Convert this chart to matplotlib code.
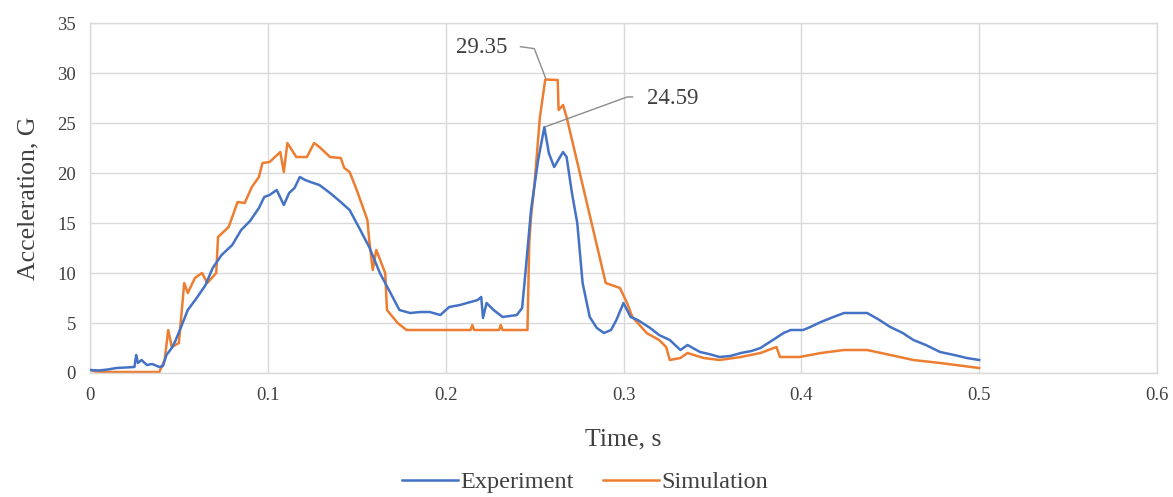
import matplotlib
matplotlib.use("Agg")
import matplotlib.pyplot as plt

plt.rcParams['font.family'] = ['Liberation Serif', 'DejaVu Serif']

# ---- data ----
t_exp = [
    0.000, 0.005, 0.010, 0.015, 0.020, 0.025, 0.026, 0.027, 0.029, 0.032,
    0.035, 0.039, 0.041, 0.043, 0.046, 0.048, 0.051, 0.055, 0.060, 0.065,
    0.069, 0.074, 0.080, 0.085, 0.090, 0.095, 0.098, 0.101, 0.105, 0.109,
    0.112, 0.115, 0.118, 0.121, 0.124, 0.129, 0.135, 0.141, 0.146, 0.152,
    0.157, 0.163, 0.169, 0.174, 0.180, 0.186, 0.191, 0.197, 0.202, 0.208,
    0.214, 0.218, 0.220, 0.221, 0.223, 0.227, 0.232, 0.236, 0.240, 0.243,
    0.245, 0.248, 0.252, 0.2555, 0.258, 0.261, 0.264, 0.266, 0.268, 0.271,
    0.274, 0.277, 0.281, 0.285, 0.289, 0.293, 0.296, 0.300, 0.304, 0.308,
    0.315, 0.320, 0.326, 0.332, 0.336, 0.343, 0.348, 0.354, 0.360, 0.366,
    0.372, 0.377, 0.384, 0.390, 0.394, 0.401, 0.405, 0.411, 0.418, 0.424,
    0.430, 0.437, 0.443, 0.450, 0.457, 0.463, 0.470, 0.478, 0.486, 0.493,
    0.500,
]
g_exp = [
    0.3, 0.25, 0.35, 0.5, 0.55, 0.6, 1.8, 1.0, 1.3, 0.8,
    0.9, 0.6, 0.7, 1.8, 2.5, 3.2, 4.5, 6.3, 7.5, 8.8,
    10.5, 11.8, 12.8, 14.3, 15.2, 16.5, 17.6, 17.8, 18.3, 16.8,
    18.0, 18.5, 19.6, 19.3, 19.1, 18.8, 18.0, 17.1, 16.3, 14.3,
    12.6, 10.0, 8.0, 6.3, 6.0, 6.1, 6.1, 5.8, 6.6, 6.8,
    7.1, 7.3, 7.6, 5.5, 7.0, 6.3, 5.6, 5.7, 5.8, 6.5,
    10.3, 16.3, 21.3, 24.59, 22.0, 20.6, 21.5, 22.1, 21.6, 18.0,
    15.0, 9.0, 5.6, 4.5, 4.0, 4.3, 5.3, 7.0, 5.6, 5.3,
    4.5, 3.8, 3.3, 2.3, 2.8, 2.1, 1.9, 1.6, 1.7, 2.0,
    2.2, 2.5, 3.3, 4.0, 4.3, 4.3, 4.6, 5.1, 5.6, 6.0,
    6.0, 6.0, 5.4, 4.6, 4.0, 3.3, 2.8, 2.1, 1.8, 1.5,
    1.3,
]

t_sim = [
    0.000, 0.003, 0.010, 0.020, 0.030, 0.039, 0.042, 0.044, 0.046, 0.050,
    0.053, 0.055, 0.059, 0.063, 0.066, 0.071, 0.072, 0.078, 0.083, 0.087,
    0.091, 0.095, 0.097, 0.101, 0.104, 0.107, 0.109, 0.111, 0.116, 0.122,
    0.126, 0.129, 0.135, 0.141, 0.143, 0.146, 0.150, 0.156, 0.157, 0.159,
    0.161, 0.166, 0.167, 0.173, 0.178, 0.214, 0.215, 0.216, 0.230, 0.231,
    0.232, 0.246, 0.247, 0.248, 0.250, 0.253, 0.256, 0.263, 0.2635, 0.266,
    0.268, 0.290, 0.298, 0.302, 0.305, 0.313, 0.320, 0.324, 0.326, 0.332,
    0.336, 0.345, 0.354, 0.366, 0.377, 0.386, 0.388, 0.399, 0.411, 0.424,
    0.437, 0.450, 0.463, 0.478, 0.500,
]
g_sim = [
    0.3, 0.15, 0.1, 0.1, 0.1, 0.1, 1.3, 4.3, 2.6, 3.0,
    9.0, 8.0, 9.5, 10.0, 9.0, 10.0, 13.6, 14.6, 17.1, 17.0,
    18.6, 19.6, 21.0, 21.1, 21.6, 22.1, 20.1, 23.0, 21.6, 21.6,
    23.0, 22.6, 21.6, 21.5, 20.5, 20.1, 18.3, 15.3, 13.3, 10.3,
    12.3, 10.0, 6.3, 5.0, 4.3, 4.3, 4.8, 4.3, 4.3, 4.8,
    4.3, 4.3, 13.0, 15.6, 19.0, 25.6, 29.35, 29.3, 26.3, 26.8,
    25.6, 9.0, 8.5, 7.0, 5.6, 4.0, 3.3, 2.6, 1.3, 1.5,
    2.0, 1.5, 1.3, 1.6, 2.0, 2.6, 1.6, 1.6, 2.0, 2.3,
    2.3, 1.8, 1.3, 1.0, 0.5,
]

series_names = ["Experiment", "Simulation"]
x_ticks = [0, 0.1, 0.2, 0.3, 0.4, 0.5, 0.6]
x_tick_labels = ["0", "0.1", "0.2", "0.3", "0.4", "0.5", "0.6"]
y_ticks = [0, 5, 10, 15, 20, 25, 30, 35]
peak_sim = (0.2565, 29.35)
peak_exp = (0.2555, 24.59)

# ---- figure ----
fig = plt.figure(figsize=(11.73, 4.97), dpi=100)
ax = fig.add_axes([0.0767, 0.2495, 0.9097, 0.7042])

blue = "#4472C4"
orange = "#ED7D31"
grid_c = "#D9D9D9"
text_c = "#404040"

ax.plot(t_exp, g_exp, color=blue, lw=1.8, label=series_names[0], zorder=3)
ax.plot(t_sim, g_sim, color=orange, lw=1.8, label=series_names[1], zorder=2)

ax.set_xlim(0, 0.6)
ax.set_ylim(0, 35)
ax.set_xticks(x_ticks)
ax.set_xticklabels(x_tick_labels)
ax.set_yticks(y_ticks)
ax.grid(True, color=grid_c, lw=1.0)
ax.set_axisbelow(True)
for s in ax.spines.values():
    s.set_color(grid_c)
    s.set_linewidth(1.0)
ax.tick_params(length=0, labelsize=13.5, colors=text_c, pad=10)

ax.set_xlabel("Time, s", fontsize=18.5, color=text_c, labelpad=18)
ax.set_ylabel("Acceleration, G", fontsize=18.5, color=text_c, labelpad=13)

line_c = "#8C8C8C"
ax.annotate(f"{peak_sim[1]:.2f}", xy=peak_sim, xytext=(0.2205, 32.6),
            ha='center', va='center', fontsize=16.5, color=text_c,
            arrowprops=dict(arrowstyle='-', color=line_c, lw=1.0,
                            shrinkA=7, shrinkB=1, relpos=(1.0, 0.6),
                            connectionstyle="angle,angleA=-8,angleB=111,rad=0"))
ax.annotate(f"{peak_exp[1]:.2f}", xy=peak_exp, xytext=(0.3275, 27.5),
            ha='center', va='center', fontsize=16.5, color=text_c,
            arrowprops=dict(arrowstyle='-', color=line_c, lw=1.0,
                            shrinkA=8, shrinkB=1, relpos=(0.0, 0.55),
                            connectionstyle="angle,angleA=0,angleB=20,rad=0"))

leg = fig.legend(loc='center', bbox_to_anchor=(585 / 1173, 1 - 482 / 497),
                 ncol=2, frameon=False, fontsize=17.5, handlelength=2.3,
                 columnspacing=1.2, handletextpad=0.1)
for txt in leg.get_texts():
    txt.set_color(text_c)

fig.savefig("out.png", dpi=100)
